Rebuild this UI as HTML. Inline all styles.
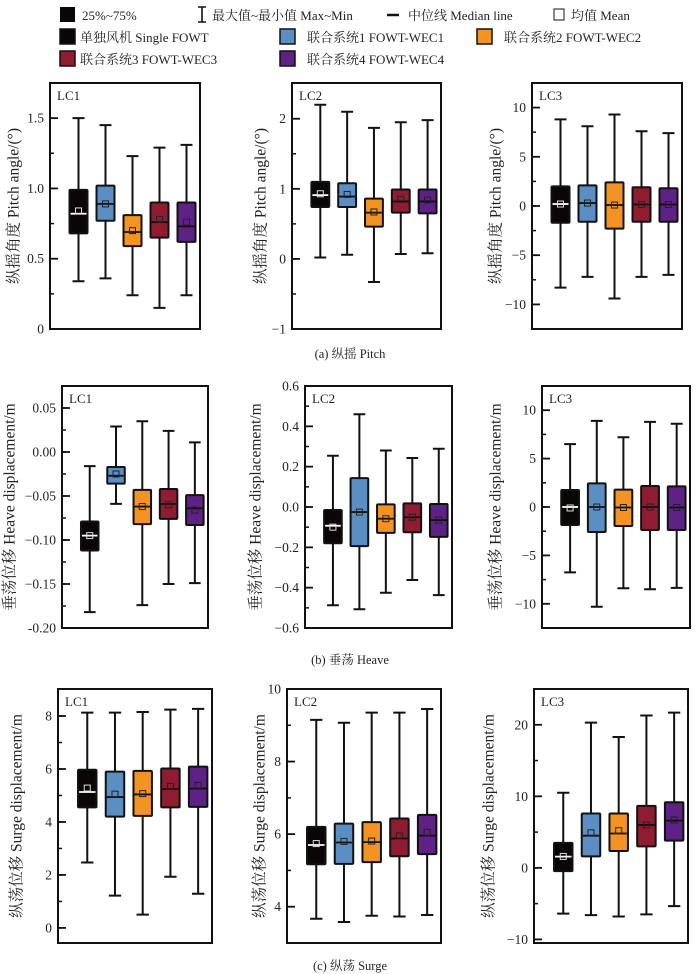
<!DOCTYPE html>
<html><head><meta charset="utf-8"><style>
body{margin:0;background:#fff;}
svg{display:block;font-family:"Liberation Serif","Noto Serif CJK SC","Noto Sans CJK SC",serif;}
</style></head><body>
<svg id="c" width="700" height="974" viewBox="0 0 700 974">
<g font-size="13" fill="#222">
<rect x="60" y="7" width="15" height="15" fill="#0a0606"/>
<text x="82" y="20">25%~75%</text>
<path d="M198 7h8M202 7v15M198 22h8" stroke="#111" stroke-width="1.6" fill="none"/>
<text x="212" y="20">最大值~最小值 Max~Min</text>
<path d="M387 15h12" stroke="#111" stroke-width="2.5"/>
<text x="408" y="20">中位线 Median line</text>
<rect x="554" y="9" width="10" height="11" fill="none" stroke="#111" stroke-width="1"/>
<text x="571" y="20">均值 Mean</text>
</g>
<g id="leg2" font-size="13" fill="#222"></g>
<g id="plots"></g>
<g font-size="12.5" fill="#222" text-anchor="middle">
<text x="350" y="358">(a) 纵摇 Pitch</text>
<text x="350" y="664">(b) 垂荡 Heave</text>
<text x="350" y="970">(c) 纵荡 Surge</text>
</g>
</svg>
<script>
const seriesNames = ["单独风机 Single FOWT","联合系统1 FOWT-WEC1","联合系统2 FOWT-WEC2","联合系统3 FOWT-WEC3","联合系统4 FOWT-WEC4"];
const seriesColors = ["#0a0606","#5b8fc4","#f39322","#8f1c31","#5e2185"];
const panelLabels = ["LC1","LC2","LC3","LC1","LC2","LC3","LC1","LC2","LC3"];
const maxVals = [
 [1.5,1.45,1.23,1.29,1.31],[2.2,2.1,1.87,1.95,1.98],[8.8,8.1,9.3,7.6,7.4],
 [-0.016,0.029,0.035,0.024,0.011],[0.254,0.46,0.28,0.243,0.289],[6.5,8.9,7.2,8.8,8.6],
 [8.13,8.13,8.15,8.24,8.27],[9.15,9.07,9.35,9.35,9.45],[10.5,20.3,18.3,21.3,21.7]];
const q3Vals = [
 [0.99,1.02,0.81,0.9,0.9],[1.1,1.08,0.86,0.99,0.99],[2.0,2.1,2.4,1.9,1.8],
 [-0.079,-0.017,-0.043,-0.042,-0.049],[-0.015,0.143,0.013,0.018,0.015],[1.75,2.44,1.8,2.17,2.13],
 [5.97,5.9,5.93,6.02,6.09],[6.2,6.29,6.33,6.43,6.53],[3.5,7.6,7.6,8.66,9.17]];
const medianVals = [
 [0.82,0.89,0.69,0.76,0.73],[0.91,0.89,0.66,0.82,0.82],[0.2,0.3,0.1,0.15,0.15],
 [-0.095,-0.027,-0.062,-0.059,-0.064],[-0.093,-0.025,-0.058,-0.051,-0.065],[0,0,-0.05,0,-0.05],
 [5.13,4.94,5.04,5.24,5.26],[5.7,5.77,5.78,5.88,5.96],[1.57,4.5,4.8,6.0,6.6]];
const meanVals = [
 [0.84,0.89,0.7,0.78,0.76],[0.93,0.92,0.67,0.85,0.84],[0.2,0.3,0.1,0.15,0.15],
 [-0.095,-0.025,-0.062,-0.06,-0.066],[-0.1,-0.025,-0.058,-0.051,-0.065],[-0.1,0,-0.05,0,-0.05],
 [5.28,5.05,5.07,5.34,5.38],[5.74,5.8,5.81,5.95,6.05],[1.6,4.9,5.2,6.0,6.7]];
const q1Vals = [
 [0.68,0.77,0.59,0.65,0.62],[0.74,0.74,0.46,0.66,0.65],[-1.7,-1.6,-2.3,-1.6,-1.6],
 [-0.112,-0.036,-0.082,-0.076,-0.083],[-0.18,-0.194,-0.128,-0.125,-0.148],[-1.86,-2.58,-1.96,-2.37,-2.37],
 [4.55,4.2,4.23,4.55,4.57],[5.17,5.18,5.23,5.39,5.45],[-0.46,1.6,2.35,3.0,3.8]];
const minVals = [
 [0.34,0.36,0.24,0.15,0.24],[0.02,0.06,-0.33,0.07,0.08],[-8.3,-7.2,-9.4,-7.2,-7.0],
 [-0.182,-0.059,-0.174,-0.15,-0.149],[-0.487,-0.507,-0.425,-0.362,-0.437],[-6.75,-10.3,-8.4,-8.5,-8.36],
 [2.47,1.22,0.5,1.93,1.29],[3.67,3.58,3.75,3.73,3.77],[-6.4,-6.6,-6.8,-6.5,-5.35]];
const tickLabels = [
 ["0","0.5","1.0","1.5"],["−1","0","1","2"],["−10","−5","0","5","10"],
 ["-0.20","−0.15","−0.10","−0.05","0.00","0.05"],["−0.6","−0.4","−0.2","0.0","0.2","0.4","0.6"],["−10","−5","0","5","10"],
 ["0","2","4","6","8"],["4","6","8","10"],["−10","0","10","20"]];
const yTitles = ["纵摇角度 Pitch angle/(°)","纵摇角度 Pitch angle/(°)","纵摇角度 Pitch angle/(°)",
 "垂荡位移 Heave displacement/m","垂荡位移 Heave displacement/m","垂荡位移 Heave displacement/m",
 "纵荡位移 Surge displacement/m","纵荡位移 Surge displacement/m","纵荡位移 Surge displacement/m"];

const frames = [
 {x:50,y:83,w:150,h:246,lo:0,hi:1.75,minor:0.25,tx:14},
 {x:292,y:83,w:149,h:246,lo:-1,hi:2.51,minor:0.5,tx:261},
 {x:532,y:83,w:150,h:246,lo:-12.5,hi:12.5,minor:2.5,tx:496},
 {x:62,y:386,w:146,h:242,lo:-0.2,hi:0.075,minor:0.025,tx:10},
 {x:305,y:386,w:147,h:242,lo:-0.6,hi:0.6,minor:0.1,tx:256},
 {x:542,y:386,w:148,h:242,lo:-12.5,hi:12.5,minor:2.5,tx:496},
 {x:58,y:689,w:154,h:254,lo:-0.57,hi:9.02,minor:1,tx:17},
 {x:287,y:689,w:154,h:254,lo:3,hi:10,minor:1,tx:260},
 {x:534,y:689,w:154,h:254,lo:-10.5,hi:25,minor:5,tx:489}];
const NS="http://www.w3.org/2000/svg";
function mk(tag,attrs,parent){const e=document.createElementNS(NS,tag);for(const k in attrs)e.setAttribute(k,attrs[k]);parent.appendChild(e);return e;}
function parseTick(s){return parseFloat(s.replace("−","-"));}

const leg2=document.getElementById("leg2");
const legPos=[[60,29],[280,29],[477,29],[60,51],[280,51]];
seriesNames.forEach((n,i)=>{
  const r=mk("rect",{x:legPos[i][0],y:legPos[i][1],width:15,height:15,fill:seriesColors[i],stroke:"#111","stroke-width":1.5},leg2);
  
  
  const t=mk("text",{x:legPos[i][0]+(i==0||i==3?20:27),y:legPos[i][1]+13},leg2);
  t.textContent=n;
  
  
});

const plots=document.getElementById("plots");
frames.forEach((f,p)=>{
  const g=mk("g",{},plots);
  
  
  const Y=v=>f.y+f.h-(v-f.lo)/(f.hi-f.lo)*f.h;
  const X=i=>f.x+f.w*(0.19+i*0.18);
  const start=Math.ceil(f.lo/f.minor-1e-6);
  for(let k=start;k*f.minor<=f.hi+1e-9;k++){
    const v=k*f.minor;const yy=Y(v);
    if(yy<f.y+2||yy>f.y+f.h-1)continue;
    const ln=mk("line",{x1:f.x,x2:f.x+4,y1:yy,y2:yy,stroke:"#111","stroke-width":1.5},g);
    
    
  }
  tickLabels[p].forEach(s=>{
    const v=parseTick(s);const yy=Y(v);
    const ln=mk("line",{x1:f.x,x2:f.x+8,y1:yy,y2:yy,stroke:"#111","stroke-width":1.8},g);
    
    
    const t=mk("text",{x:f.x-6,y:yy+4.5,"text-anchor":"end","font-size":13.5,fill:"#222"},g);
    t.textContent=s;
    
    
  });
  const yt=mk("text",{x:f.tx,y:f.y+f.h/2,"text-anchor":"middle","font-size":15.5,fill:"#222",transform:`rotate(-90 ${f.tx} ${f.y+f.h/2})`,"dominant-baseline":"central"},g);
  yt.textContent=yTitles[p];
  
  
  const lb=mk("text",{x:f.x+7,y:f.y+17,"font-size":13,fill:"#222"},g);
  lb.textContent=panelLabels[p];
  
  
  const bw=f.w*0.12, cw=f.w*0.08;
  for(let i=0;i<5;i++){
    const cx=X(i);
    const bg=mk("g",{},g);
    
    
    mk("path",{d:`M${cx} ${Y(maxVals[p][i])}V${Y(minVals[p][i])}M${cx-cw/2} ${Y(maxVals[p][i])}h${cw}M${cx-cw/2} ${Y(minVals[p][i])}h${cw}`,stroke:"#111","stroke-width":2,fill:"none"},bg);
    const top=Y(q3Vals[p][i]),bot=Y(q1Vals[p][i]);
    mk("rect",{x:cx-bw/2,y:top,width:bw,height:bot-top,fill:seriesColors[i],stroke:"#111","stroke-width":2,rx:1},bg);
    const lc=i==0?"#fff":"#111";
    mk("line",{x1:cx-bw/2+1,x2:cx+bw/2-1,y1:Y(medianVals[p][i]),y2:Y(medianVals[p][i]),stroke:lc,"stroke-width":1.8},bg);
    const my=Y(meanVals[p][i]);
    mk("rect",{x:cx-3,y:my-3,width:6,height:6,fill:"none",stroke:i==0?"#ddd":"#222","stroke-width":1},bg);
  }
  const fr=mk("rect",{x:f.x,y:f.y,width:f.w,height:f.h,fill:"none",stroke:"#111","stroke-width":2},g);
  
  
});
</script>
</body></html>
